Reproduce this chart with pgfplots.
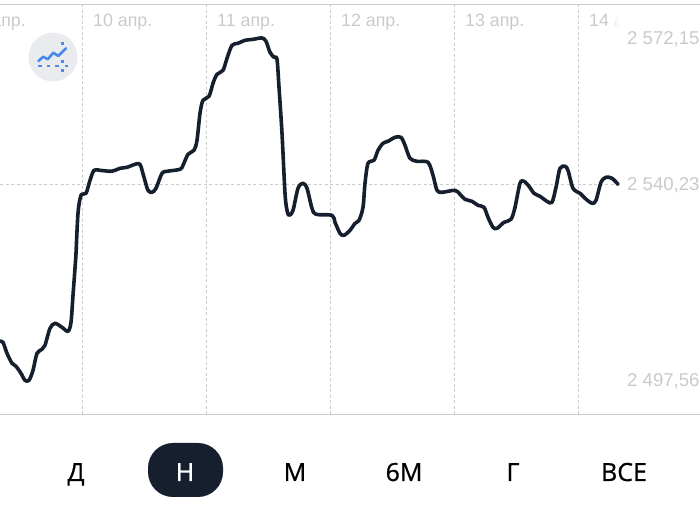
\documentclass[border=0pt]{standalone}
\usepackage{fontspec}
\setmainfont{Liberation Sans}
\newfontfamily\btnfont{Open Sans}[FakeBold=0.7]
\usepackage{pgfplots}
\pgfplotsset{compat=1.18}
\usetikzlibrary{fadings}
\definecolor{lineink}{HTML}{151F2E}
\definecolor{gridc}{HTML}{C9CBCE}
\definecolor{labc}{HTML}{C8CACD}
\definecolor{iconb}{HTML}{4A8AE8}
\definecolor{iconbg}{HTML}{E9EBEE}
\pgfplotstableread{
x y
0 2505.99
3 2505.77
7 2503.37
12 2501.19
16 2500.54
21 2499.01
25 2497.48
29 2497.48
33 2499.66
37 2503.37
42 2504.24
45 2505.12
50 2508.82
55 2509.91
62 2509.04
68 2508.17
71 2510.13
73 2516.02
75 2521.91
76 2525.18
78 2533.91
81 2537.83
86 2538.27
90 2541.10
94 2543.28
100 2543.28
110 2543.07
115 2543.28
120 2543.72
127 2543.94
135 2544.59
140 2544.59
144 2541.76
148 2538.92
152 2538.49
156 2539.36
162 2542.63
167 2543.07
180 2543.50
183 2544.37
188 2546.77
194 2547.65
197 2549.83
200 2555.72
203 2558.55
209 2559.42
213 2562.26
217 2564.22
223 2565.09
227 2567.71
232 2570.55
238 2570.98
245 2571.64
253 2571.85
262 2572.15
266 2571.42
270 2569.02
274 2567.93
277 2567.49
279 2561.39
282 2551.35
285 2538.27
287 2534.56
289 2533.47
293 2534.56
298 2539.36
303 2540.45
307 2539.36
312 2535.00
316 2533.69
332 2533.47
335 2531.94
340 2529.54
344 2529.11
350 2530.20
355 2531.72
359 2532.38
363 2535.21
365 2540.45
368 2544.81
374 2545.46
378 2547.65
383 2549.17
388 2549.61
395 2550.48
401 2550.48
405 2548.74
410 2545.90
417 2545.25
428 2545.03
433 2542.19
437 2538.92
442 2538.49
455 2538.92
460 2538.05
465 2536.96
472 2536.52
478 2535.65
484 2535.21
488 2533.03
493 2530.85
497 2530.63
504 2531.94
511 2532.60
515 2535.21
520 2540.45
524 2540.88
529 2539.79
534 2538.27
540 2537.61
547 2536.52
552 2536.30
556 2539.58
560 2543.72
565 2544.16
568 2543.28
573 2539.36
580 2538.27
585 2537.18
592 2536.09
596 2536.74
601 2540.67
606 2541.76
612 2541.54
618 2540.23
}\pricetable
\begin{document}
\begin{tikzpicture}
\clip (0,0) rectangle (700pt,510pt);
\begin{axis}[
  at={(0,0)}, anchor=south west,
  scale only axis, width=700pt, height=510pt,
  xmin=0, xmax=700, ymin=2469.20, ymax=2580.43,
  axis lines=none, clip=false,
]
\addplot[gridc, line width=1pt, forget plot] coordinates {(0,2579.49) (700,2579.49)};
\addplot[gridc, line width=1pt, forget plot] coordinates {(0,2490.07) (700,2490.07)};
\addplot[gridc, line width=1pt, dash pattern=on 3pt off 2.5pt] coordinates {(0,2540.23) (620,2540.23)};
\addplot[gridc, line width=1pt, dash pattern=on 3pt off 2.5pt] coordinates {(82.5,2579.49) (82.5,2490.07)};
\addplot[gridc, line width=1pt, dash pattern=on 3pt off 2.5pt] coordinates {(206.5,2579.49) (206.5,2490.07)};
\addplot[gridc, line width=1pt, dash pattern=on 3pt off 2.5pt] coordinates {(330.5,2579.49) (330.5,2490.07)};
\addplot[gridc, line width=1pt, dash pattern=on 3pt off 2.5pt] coordinates {(454.5,2579.49) (454.5,2490.07)};
\addplot[gridc, line width=1pt, dash pattern=on 3pt off 2.5pt] coordinates {(578.5,2579.49) (578.5,2490.07)};
\addplot[lineink, line width=3.6pt, smooth, tension=0.5, line cap=round, line join=round] table[x=x,y=y] {\pricetable};
\end{axis}
\begin{scope}[x=1pt, y=-1pt, shift={(0pt,510pt)}]
  \fill[iconbg] (53,57) circle (24.5);
  \draw[iconb, line width=2.6pt, line join=round, line cap=round] (38.5,61) -- (43.3,56.7) -- (47.7,59.3) -- (53.3,52.7) -- (58.3,56) -- (66,48.3);
  \foreach \a/\b in {38/41.7,46.7/50,55/59,65/68.3}
    \draw[iconb, line width=2.2pt] (\a,66) -- (\b,66);
  \draw[iconb, line width=2.6pt] (62.3,42) -- (62.3,45);
  \draw[iconb, line width=2.6pt] (62.3,60) -- (62.3,63);
  \draw[iconb, line width=2.6pt] (62.3,69) -- (62.3,72);
  \def\lab{\fontsize{17.8}{20}\selectfont\color{labc}}
  \def\ylab{\fontsize{18.6}{20}\selectfont\color{labc}}
  \node[anchor=base east, inner sep=0pt] at (26,27) {\lab 9 апр.};
  \node[anchor=base west, inner sep=0pt] at (93,27) {\lab 10 апр.};
  \node[anchor=base west, inner sep=0pt] at (217,27) {\lab 11 апр.};
  \node[anchor=base west, inner sep=0pt] at (341,27) {\lab 12 апр.};
  \node[anchor=base west, inner sep=0pt] at (465,27) {\lab 13 апр.};
  \node[anchor=base west, inner sep=0pt] at (589,27) {\lab 14 апр.};
  \fill[white] (620,7) rectangle (700,34);
  \fill[white, path fading=west] (606,7) rectangle (620,34);
  \node[anchor=base west, inner sep=0pt] at (627,44.5) {\ylab 2 572,15};
  \node[anchor=base west, inner sep=0pt] at (627,190.5) {\ylab 2 540,23};
  \node[anchor=base west, inner sep=0pt] at (627,386.5) {\ylab 2 497,56};
  \fill[lineink, rounded corners=25pt] (148,443) rectangle (223,497);
  \def\btn{\btnfont\fontsize{25}{28}\selectfont}
  \node[anchor=base, inner sep=0pt] at (76,481) {\btn Д};
  \node[anchor=base, inner sep=0pt, text=white] at (185,481) {\btn Н};
  \node[anchor=base, inner sep=0pt] at (295,481) {\btn М};
  \node[anchor=base, inner sep=0pt] at (404,481) {\btn 6М};
  \node[anchor=base, inner sep=0pt] at (513,481) {\btn Г};
  \node[anchor=base, inner sep=0pt] at (624,481) {\btn ВСЕ};
\end{scope}
\end{tikzpicture}
\end{document}
